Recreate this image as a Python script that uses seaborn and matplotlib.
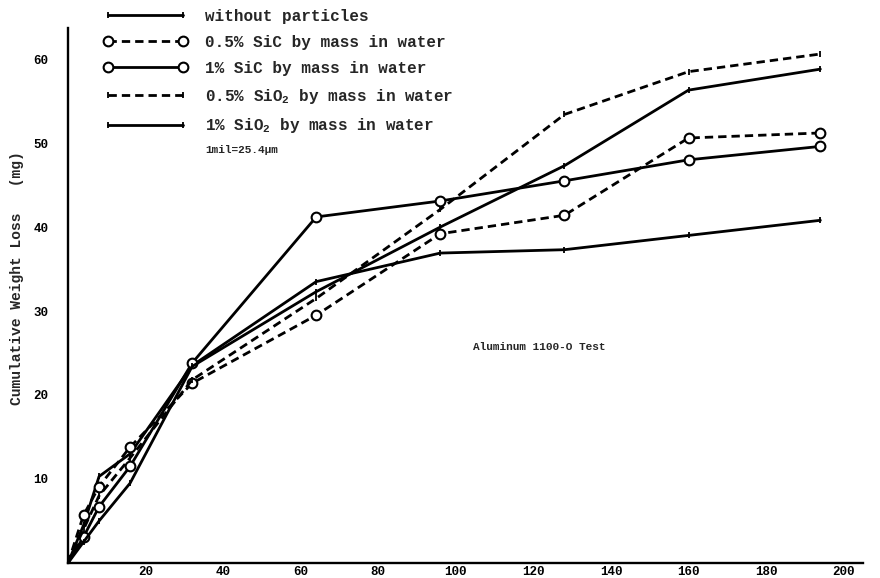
import matplotlib
matplotlib.use("Agg")
import matplotlib.pyplot as plt
from matplotlib.lines import Line2D
import seaborn as sns

# Exposure time (hours) and cumulative weight loss (mg) for each slurry
hours = [0, 4, 8, 16, 32, 64, 96, 128, 160, 194]
loss_none = [0, 4.5, 10.3, 13.0, 23.5, 33.5, 36.9, 37.3, 39.0, 40.8]
loss_sic_05 = [0, 5.7, 9.1, 13.8, 21.4, 29.5, 39.2, 41.4, 50.6, 51.2]
loss_sic_1 = [0, 3.1, 6.7, 11.5, 23.8, 41.2, 43.1, 45.5, 48.0, 49.6]
loss_sio2_05 = [0, 4.0, 8.0, 12.5, 21.8, 31.5, 42.1, 53.4, 58.5, 60.6]
loss_sio2_1 = [0, 2.5, 5.0, 9.5, 23.4, 32.3, 40.0, 47.3, 56.3, 58.8]

labels = [
    "without particles",
    "0.5% SiC by mass in water",
    "1% SiC by mass in water",
    r"0.5% SiO$_{\mathregular{2}}$ by mass in water",
    r"1% SiO$_{\mathregular{2}}$ by mass in water",
]
x_ticks = [20, 40, 60, 80, 100, 120, 140, 160, 180, 200]
y_ticks = [10, 20, 30, 40, 50, 60]
unit_note = "1mil=25.4μm"
test_title = "Aluminum 1100-O Test"
y_title = "Cumulative Weight Loss   (mg)"

sns.set_theme(style="white")
plt.rcParams["font.family"] = ["Liberation Mono", "DejaVu Sans"]
plt.rcParams["font.weight"] = "bold"
plt.rcParams["mathtext.default"] = "regular"

DASH = (0, (3.0, 1.8))
styles = [
    dict(ls="-", marker="|", ms=5, mew=1.3),
    dict(ls=DASH, marker="o", ms=7, mew=1.5),
    dict(ls="-", marker="o", ms=7, mew=1.5),
    dict(ls=DASH, marker="|", ms=5, mew=1.3),
    dict(ls="-", marker="|", ms=5, mew=1.3),
]
series = [loss_none, loss_sic_05, loss_sic_1, loss_sio2_05, loss_sio2_1]

fig = plt.figure(figsize=(8.8, 5.78), dpi=100)
ax = fig.add_axes([0.0773, 0.026, 0.9034, 0.9256])

handles = []
for vals, st, lab in zip(series, styles, labels):
    sns.lineplot(
        x=hours, y=vals, ax=ax, color="black", lw=2.0, linestyle=st["ls"],
        marker=st["marker"], markevery=slice(1, None), ms=st["ms"],
        mfc="white", mec="black", mew=st["mew"], errorbar=None, legend=False,
    )
    handles.append(Line2D([], [], color="black", lw=2.0, ls=st["ls"],
                          marker=st["marker"], ms=st["ms"], mfc="white",
                          mec="black", mew=st["mew"]))

ax.set_xlim(0, 205)
ax.set_ylim(0, 63.7)
ax.set_xticks(x_ticks)
ax.set_yticks(y_ticks)
ax.set_xticklabels([str(v) for v in x_ticks], fontsize=9, fontweight="bold")
ax.set_yticklabels([str(v) for v in y_ticks], fontsize=9, fontweight="bold")
ax.tick_params(axis="x", direction="in", length=3, width=1.5, pad=2, colors="black")
ax.tick_params(axis="y", direction="in", length=3, width=1.5, pad=14, colors="black")
ax.set_xlabel("")
ax.set_ylabel("")
for side in ("top", "right"):
    ax.spines[side].set_visible(False)
for side in ("left", "bottom"):
    ax.spines[side].set_color("black")
    ax.spines[side].set_linewidth(1.7)
ax.grid(False)

leg = ax.legend(
    handles, labels, loc="upper left",
    bbox_to_anchor=(103 / 880, 1 - 9 / 578), bbox_transform=fig.transFigure,
    frameon=False, fontsize=11.5, numpoints=2, handlelength=5.3,
    handletextpad=1.1, labelspacing=0.68, borderpad=0, borderaxespad=0,
)
for t in leg.get_texts():
    t.set_fontweight("bold")

fig.text(205 / 880, 1 - 150 / 578, unit_note, fontsize=8, fontweight="bold",
         ha="left", va="center")
ax.text(104.4, 25.7, test_title, fontsize=8, fontweight="bold",
        ha="left", va="center")
fig.text(17 / 880, 1 - 278 / 578, y_title, rotation=90, fontsize=10.5,
         fontweight="bold", ha="center", va="center")

fig.savefig("out.png", dpi=100, facecolor="white")
